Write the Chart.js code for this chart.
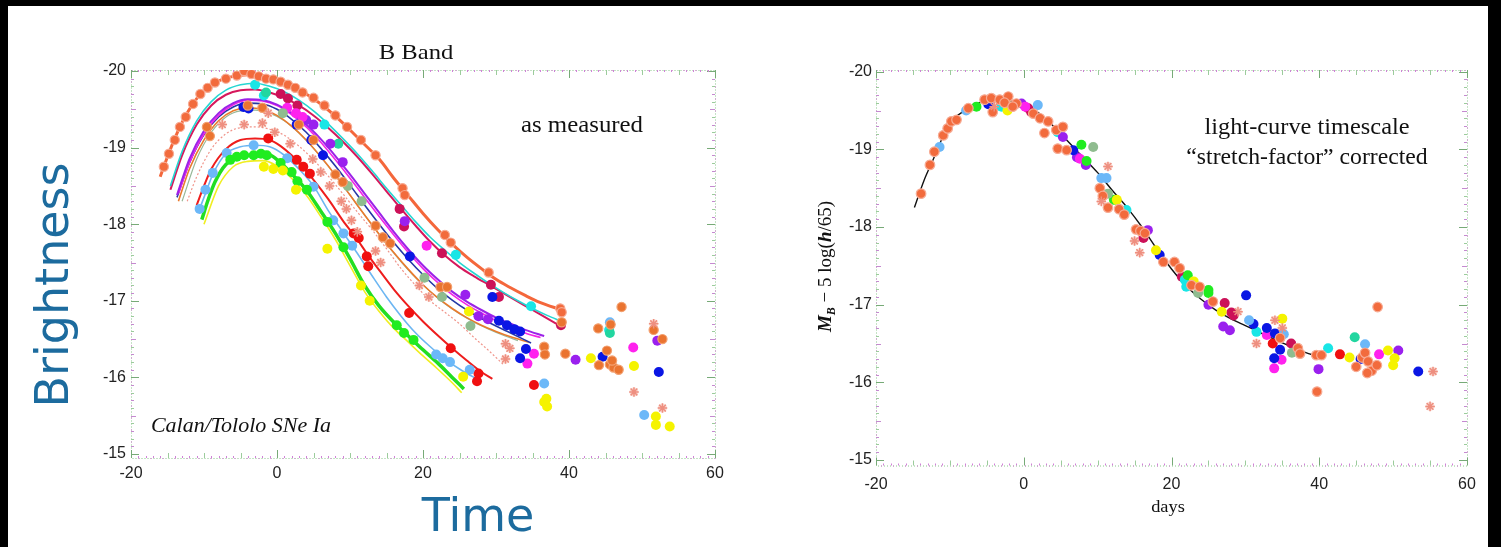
<!DOCTYPE html>
<html><head><meta charset="utf-8">
<script src="https://cdn.jsdelivr.net/npm/chart.js@4.4.1/dist/chart.umd.min.js"></script>
<style>
html,body{margin:0;padding:0;background:#000;width:1501px;height:547px;overflow:hidden}
#page{position:absolute;left:8px;top:6px;width:1480px;height:541px;background:#fff}
#c1{position:absolute;left:0;top:0}
#c2{position:absolute;left:742px;top:0}
</style></head><body>
<div id="page"><canvas id="c1" width="742" height="541"></canvas><canvas id="c2" width="738" height="541"></canvas></div>
<script>
// ---------- tick labels ----------
const xTickVals = [-20, 0, 20, 40, 60];
const yTickVals = [-20, -19, -18, -17, -16, -15];

// ---------- LEFT PANEL: template fits (as measured) ----------
const fitOrangeRed = [[-16,-18.62],[-15,-18.88],[-14,-19.12],[-13,-19.33],[-12,-19.5],[-11,-19.64],[-10,-19.74],[-8,-19.87],[-6,-19.93],[-4,-19.95],[-2,-19.94],[0,-19.88],[2,-19.8],[4,-19.7],[6,-19.57],[8,-19.41],[10,-19.23],[12,-19.04],[14,-18.85],[16,-18.6],[18,-18.37],[20,-18.14],[22,-17.93],[24,-17.74],[26,-17.57],[28,-17.42],[30,-17.28],[32,-17.17],[34,-17.07],[36,-16.98],[39,-16.88]];
const fitCyan = [[-14.6,-18.5],[-13,-18.95],[-11,-19.35],[-9,-19.6],[-7,-19.75],[-5,-19.82],[-3,-19.84],[-1,-19.8],[1,-19.73],[3,-19.62],[5,-19.48],[7,-19.31],[9,-19.12],[11,-18.92],[13,-18.7],[15,-18.47],[17,-18.25],[19,-18.03],[21,-17.83],[23,-17.66],[25,-17.5],[27,-17.36],[29,-17.23],[31,-17.11],[33,-17.0],[35,-16.9],[37,-16.81],[39,-16.73]];
const fitCrimson = [[-14.6,-18.45],[-13,-18.9],[-11,-19.3],[-9,-19.55],[-7,-19.69],[-5,-19.75],[-3,-19.76],[-1,-19.72],[1,-19.65],[3,-19.55],[5,-19.42],[7,-19.26],[9,-19.08],[11,-18.88],[13,-18.66],[15,-18.43],[17,-18.2],[19,-17.98],[21,-17.77],[23,-17.59],[25,-17.44],[27,-17.32],[29,-17.21],[31,-17.1],[33,-16.99],[35,-16.88],[37,-16.77],[39,-16.66]];
const fitPurple = [[-13.7,-18.38],[-12,-18.85],[-10,-19.22],[-8,-19.45],[-6,-19.58],[-4,-19.63],[-2,-19.62],[0,-19.56],[2,-19.45],[4,-19.3],[6,-19.11],[8,-18.89],[10,-18.65],[12,-18.4],[14,-18.15],[16,-17.9],[18,-17.67],[20,-17.46],[22,-17.28],[24,-17.12],[26,-16.99],[28,-16.88],[30,-16.78],[32,-16.7],[34,-16.62],[36.6,-16.54]];
const fitMagenta = [[-13.5,-18.4],[-12,-18.8],[-10,-19.18],[-8,-19.42],[-6,-19.56],[-4,-19.62],[-2,-19.61],[0,-19.55],[2,-19.43],[4,-19.27],[6,-19.07],[8,-18.84],[10,-18.6],[12,-18.35],[14,-18.1],[16,-17.86],[18,-17.63],[20,-17.42],[22,-17.24],[24,-17.08],[26,-16.95],[28,-16.84],[30,-16.74],[32,-16.66],[34,-16.58],[36.1,-16.52]];
const fitNavy = [[-13.7,-18.35],[-12,-18.8],[-10,-19.17],[-8,-19.4],[-6,-19.53],[-4,-19.58],[-2,-19.57],[0,-19.5],[2,-19.37],[4,-19.2],[6,-18.99],[8,-18.76],[10,-18.51],[12,-18.25],[14,-18.0],[16,-17.76],[18,-17.54],[20,-17.34],[22,-17.16],[24,-17.01],[26,-16.88],[28,-16.77],[30,-16.67],[32,-16.58],[34.8,-16.45]];
const fitOrange = [[-13.5,-18.3],[-12,-18.72],[-10,-19.1],[-8,-19.35],[-6,-19.48],[-4,-19.52],[-2,-19.5],[0,-19.42],[2,-19.28],[4,-19.1],[6,-18.88],[8,-18.64],[10,-18.38],[12,-18.12],[14,-17.87],[16,-17.63],[18,-17.41],[20,-17.21],[22,-17.04],[24,-16.9],[26,-16.78],[28,-16.68],[30,-16.6],[32,-16.53],[34.5,-16.46]];
const fitGrayGreen = [[-13,-18.3],[-11,-18.85],[-9,-19.2],[-7,-19.4],[-5,-19.48],[-3,-19.49],[-1,-19.45],[1,-19.35],[3,-19.19],[5,-18.99],[7,-18.76],[9,-18.51],[11,-18.25],[13,-17.99],[15,-17.74],[17,-17.51],[19,-17.3],[21,-17.12],[23,-16.96],[25,-16.83],[27,-16.72],[29,-16.63],[31,-16.55],[33,-16.48]];
const fitPink = [[-12.3,-18.3],[-11,-18.62],[-9,-18.98],[-7,-19.18],[-5,-19.26],[-3,-19.27],[-1,-19.24],[1,-19.16],[3,-19.02],[5,-18.84],[7,-18.63],[9,-18.4],[11,-18.16],[13,-17.93],[15,-17.68],[17,-17.42],[19,-17.2],[21,-17.0],[23,-16.85],[25,-16.7],[27,-16.52],[29,-16.35],[31.1,-16.16]];
const fitRed = [[-11,-18.25],[-10,-18.5],[-9,-18.72],[-7,-18.98],[-5,-19.1],[-3,-19.12],[-1,-19.1],[0.5,-19.02],[2,-18.9],[3,-18.8],[5,-18.58],[7,-18.33],[9,-18.05],[11,-17.8],[12.3,-17.62],[14,-17.4],[16,-17.15],[18,-16.93],[20,-16.73],[22,-16.55],[24,-16.38],[26,-16.22],[28,-16.07],[29.5,-15.98]];
const fitLightBlue = [[-10.8,-18.15],[-10,-18.35],[-8.7,-18.67],[-7,-18.92],[-5,-19.01],[-3,-19.03],[-1,-19.01],[1,-18.9],[3,-18.72],[5,-18.5],[7,-18.18],[9,-17.9],[11,-17.62],[13,-17.33],[15,-17.05],[17,-16.8],[19,-16.58],[21,-16.4],[23,-16.24],[25,-16.11],[27,-16.0],[28,-15.95]];
const fitGreen = [[-10.3,-18.06],[-9.5,-18.3],[-8.5,-18.55],[-7,-18.78],[-5,-18.88],[-3,-18.9],[-1,-18.9],[0.5,-18.8],[2,-18.66],[4,-18.45],[6,-18.17],[8,-17.88],[10,-17.55],[12,-17.2],[14,-16.93],[16,-16.72],[18,-16.54],[20,-16.36],[22,-16.19],[24,-16.0],[25.6,-15.85]];
const fitYellow = [[-10,-18.0],[-8,-18.5],[-6,-18.75],[-4,-18.82],[-2,-18.83],[0,-18.76],[2,-18.6],[4,-18.38],[6,-18.1],[8,-17.8],[10,-17.46],[12,-17.12],[14,-16.86],[16,-16.64],[18,-16.46],[20,-16.28],[22,-16.11],[24,-15.93],[25.3,-15.8]];

// ---------- LEFT PANEL: measured points ----------
const lOrangeRed = [[-15.5,-18.75],[-14.8,-18.92],[-14,-19.1],[-13.3,-19.27],[-12.5,-19.4],[-11.5,-19.57],[-10.5,-19.7],[-9.5,-19.78],[-8.5,-19.85],[-7,-19.9],[-5.5,-19.94],[-4.5,-20.0],[-3.5,-19.96],[-2.5,-19.93],[-1.5,-19.9],[-0.5,-19.89],[0.5,-19.86],[1.5,-19.82],[2.5,-19.78],[3.5,-19.72],[5,-19.65],[6.5,-19.55],[8,-19.42],[9.6,-19.27],[11.5,-19.1],[13.5,-18.9],[17.2,-18.47],[17.5,-18.38],[23,-17.86],[23.8,-17.76],[29,-17.37],[38.8,-16.9],[39,-16.85]];
const lOrange = [[-9.6,-19.27],[-9.2,-19.15],[-4,-19.55],[-2,-19.52],[3,-19.3],[5,-19.1],[8,-18.65],[9,-18.55],[13.5,-17.98],[14.5,-17.83],[15.5,-17.75],[22.4,-17.18],[23.3,-17.18],[39,-16.72],[36.6,-16.4],[36.7,-16.3],[39.5,-16.31],[44,-16.64],[44.1,-16.16],[45.2,-16.35],[45.6,-16.17],[46.1,-16.13],[46.8,-16.1],[45.9,-16.22],[47.2,-16.92],[51.6,-16.62],[52.8,-16.5],[45.7,-16.69]];
const lCrimson = [[16.8,-18.2],[17.4,-17.97],[22.6,-17.62],[29.3,-17.21],[30.4,-17.05],[0.5,-19.7],[1.5,-19.64],[2.8,-19.55],[38.9,-16.68]];
const lCyan = [[-3,-19.82],[24.5,-17.6],[34.8,-16.93],[6.5,-19.3],[45.5,-16.62],[-1.8,-19.68]];
const lTeal = [[8.4,-19.05],[45.6,-16.58],[-1.5,-19.72]];
const lPurple = [[4,-19.36],[5,-19.3],[9,-18.81],[7.3,-19.05],[17.5,-18.04],[25.8,-17.08],[27.6,-16.8],[28.9,-16.76],[40.9,-16.23],[52.1,-16.48]];
const lMagenta = [[1.4,-19.52],[2.6,-19.45],[20.5,-17.72],[34.3,-16.18],[35.2,-16.31],[48.8,-16.39],[3.5,-19.4]];
const lBlue = [[-4.6,-19.53],[-3.9,-19.51],[2.7,-19.3],[4.7,-19.1],[6.3,-18.9],[18.2,-17.58],[29.5,-17.05],[30.4,-16.74],[31.5,-16.68],[32.5,-16.63],[33.3,-16.6],[34.1,-16.37],[33.3,-16.25],[44.6,-16.27],[52.3,-16.07]];
const lRed = [[-1.2,-19.12],[2.7,-18.84],[3.6,-18.75],[4.5,-18.66],[10.5,-17.88],[11.2,-17.82],[12.3,-17.58],[12.5,-17.45],[18.1,-16.84],[23.8,-16.38],[27.6,-16.05],[27.4,-15.95],[35.2,-15.9]];
const lLightBlue = [[-10.6,-18.2],[-9.8,-18.45],[-8.8,-18.67],[-6.9,-18.93],[-3.2,-19.03],[1.4,-18.86],[5,-18.49],[7.7,-18.05],[9.1,-17.88],[10.3,-17.72],[21.8,-16.3],[22.7,-16.25],[23.7,-16.2],[26.4,-16.1],[36.6,-15.92],[50.3,-15.51],[45.6,-16.72]];
const lGreen = [[-6.4,-18.84],[-5.5,-18.88],[-4.5,-18.9],[-3.2,-18.9],[-2.2,-18.92],[-1.4,-18.9],[0.5,-18.8],[2,-18.68],[2.8,-18.56],[4.1,-18.45],[6.9,-18.03],[9.1,-17.7],[16.4,-16.68],[17.4,-16.58],[18.7,-16.49]];
const lYellow = [[-1.8,-18.75],[-0.5,-18.72],[0.8,-18.7],[2.6,-18.45],[6.9,-17.68],[11.5,-17.2],[12.7,-17.0],[25.5,-16.01],[26.3,-16.86],[36.6,-15.68],[37,-15.62],[36.9,-15.72],[43,-16.25],[48.9,-16.15],[51.9,-15.49],[51.9,-15.38],[53.8,-15.36]];
const lGrayGreen = [[0.8,-19.45],[9.7,-18.5],[11.6,-18.3],[22.6,-17.05],[26.5,-16.67],[20.2,-17.3]];
const lPinkStar = [[-7.5,-19.3],[-4.5,-19.3],[-2,-19.32],[-1.2,-19.45],[-0.3,-19.2],[1.8,-19.05],[4.9,-18.85],[6,-18.68],[7.2,-18.5],[8.8,-18.3],[9.5,-18.2],[10.2,-18.05],[11,-17.9],[13.5,-17.65],[14.2,-17.5],[19.5,-17.2],[20.8,-17.05],[31.3,-16.44],[31.9,-16.38],[31.3,-16.24],[48.9,-15.81],[52.8,-15.6],[51.6,-16.7]];

// ---------- RIGHT PANEL: stretch-corrected template ----------
const fitTemplate = [[-14.8,-18.25],[-13.5,-18.6],[-12.3,-18.86],[-11,-19.15],[-9.6,-19.38],[-8,-19.5],[-6,-19.6],[-4,-19.64],[-2,-19.63],[0,-19.57],[2,-19.47],[4,-19.3],[6,-19.1],[8,-18.9],[10,-18.7],[12,-18.47],[14,-18.25],[16,-18.0],[18,-17.72],[20,-17.46],[22,-17.24],[24,-17.07],[26,-16.93],[28,-16.82],[30,-16.73],[32,-16.64],[34,-16.55],[36,-16.47],[38,-16.39],[40,-16.33]];

// ---------- RIGHT PANEL: corrected points ----------
const rOrange = [[-13.9,-18.43],[-12.7,-18.8],[-12.1,-18.97],[-10.9,-19.18],[-10.3,-19.27],[-9.8,-19.36],[-9.1,-19.38],[-7.5,-19.53],[-5.3,-19.64],[-4.4,-19.66],[-3.25,-19.64],[-2.1,-19.68],[-1,-19.59],[-4.2,-19.48],[-2.6,-19.6],[-1.5,-19.55],[1.3,-19.46],[2.2,-19.4],[3.3,-19.36],[2.8,-19.21],[4.4,-19.25],[5.3,-19.29],[4.6,-19.01],[5.8,-18.99],[10.3,-18.5],[10.7,-18.4],[11.4,-18.25],[12.9,-18.23],[13.6,-18.16],[15.2,-17.97],[15.8,-17.95],[16.4,-17.92],[18.9,-17.55],[20.4,-17.55],[21.1,-17.47],[22.7,-17.25],[23.8,-17.23],[25.6,-17.04],[34.7,-16.57],[37.1,-16.44],[37.4,-16.37],[39.6,-16.35],[40.3,-16.35],[45,-16.2],[45.8,-16.32],[46.2,-16.38],[46.6,-16.27],[47.1,-16.15],[47.8,-16.22],[46.5,-16.12],[47.9,-16.97],[39.7,-15.88]];
const rBlue = [[-4.8,-19.58],[6.7,-18.99],[18.4,-17.64],[30.1,-17.12],[31.1,-16.75],[32.9,-16.7],[34,-16.63],[34.7,-16.42],[33.9,-16.31],[53.4,-16.14],[45.6,-16.3]];
const rCyan = [[-3,-19.55],[4.6,-19.22],[13.9,-18.22],[21.8,-17.32],[22,-17.23],[31.5,-16.65],[41.2,-16.44]];
const rGreen = [[-6.4,-19.55],[-2.5,-19.62],[7.8,-19.06],[8.5,-18.85],[12.2,-18.35],[22.2,-17.38],[25,-17.19],[25,-17.15]];
const rTeal = [[44.8,-16.58]];
const rPurple = [[-0.3,-19.59],[5.3,-19.16],[7.2,-18.9],[8.4,-18.8],[16.8,-17.96],[25,-17.0],[27,-16.72],[27.9,-16.67],[39.9,-16.17],[50.7,-16.41]];
const rMagenta = [[0.2,-19.55],[7.6,-18.88],[32.9,-16.61],[34.9,-16.29],[33.9,-16.18],[48.1,-16.36]];
const rCrimson = [[0.6,-19.53],[1.0,-19.48],[16.2,-17.86],[27.2,-17.02],[28.1,-16.9],[28.4,-16.86],[36.2,-16.5],[21.4,-17.36]];
const rRed = [[33.7,-16.5],[42.8,-16.36]];
const rYellow = [[-2.2,-19.5],[12.6,-18.35],[17.9,-17.7],[23,-17.3],[26.8,-16.91],[35,-16.82],[44.1,-16.32],[49.3,-16.41],[50.2,-16.31],[50,-16.22]];
const rLightBlue = [[-11.4,-19.03],[-7.8,-19.5],[1.9,-19.57],[10.5,-18.63],[11.2,-18.63],[30.5,-16.8],[35.2,-16.62],[46.2,-16.49]];
const rGrayGreen = [[9.4,-19.03],[11.4,-18.43],[23.6,-17.15],[36.3,-16.38]];
const rPinkStar = [[-4,-19.55],[11.4,-18.78],[10.5,-18.33],[15,-17.82],[15.7,-17.67],[29,-16.91],[31.5,-16.5],[34,-16.8],[35,-16.7],[55.4,-16.14],[55,-15.69]];

// ---------- helpers ----------
const pts = a => a.map(([x, y]) => ({x, y}));
function lineDs(d, color, w, dash) {
  return {data: pts(d), showLine: true, borderColor: color, borderWidth: w, borderDash: dash || [],
    pointRadius: 0, pointHoverRadius: 0, cubicInterpolationMode: 'monotone', order: 2, fill: false};
}
function dotDs(d, fill, border, bw, r) {
  return {data: pts(d), showLine: false, backgroundColor: fill, borderColor: border || fill,
    borderWidth: bw || 0, pointStyle: 'circle', pointRadius: r || 5, order: 1};
}
function starDs(d) {
  return [
    {data: pts(d), showLine: false, backgroundColor: '#fbd9d0', borderColor: '#fbd9d0', borderWidth: 0, pointRadius: 4.5, order: 1},
    {data: pts(d), showLine: false, backgroundColor: '#ee8f80', borderColor: '#ee8f80', borderWidth: 1.5, pointStyle: 'star', pointRadius: 4.8, order: 0}
  ];
}

// frame with dotted border and inward minor ticks
const framePlugin = {
  id: 'frame',
  beforeDatasetsDraw(chart) {
    const {ctx, chartArea: a, scales: {x, y}} = chart;
    ctx.save();
    ctx.lineWidth = 1;
    ctx.setLineDash([1, 2]);
    ctx.strokeStyle = '#8cc98c';
    ctx.strokeRect(a.left + 0.5, a.top + 0.5, a.right - a.left, a.bottom - a.top);
    ctx.setLineDash([1, 11]);
    ctx.strokeStyle = '#d77ad7';
    ctx.strokeRect(a.left + 0.5, a.top + 0.5, a.right - a.left, a.bottom - a.top);
    ctx.setLineDash([]);
    for (let k = 0; k <= 50; k++) {
      const v = -20 + k / 10;
      const py = Math.round(y.getPixelForValue(v)) + 0.5;
      const len = k % 10 === 0 ? 8 : (k % 5 === 0 ? 5 : 3);
      ctx.strokeStyle = k % 10 === 0 ? '#77aa77' : (k % 2 ? '#c58ad0' : '#9ccc9c');
      ctx.beginPath();
      ctx.moveTo(a.left, py); ctx.lineTo(a.left + len, py);
      ctx.moveTo(a.right, py); ctx.lineTo(a.right - len, py);
      ctx.stroke();
    }
    for (let v = -20; v <= 60; v += 1) {
      const px = Math.round(x.getPixelForValue(v)) + 0.5;
      const len = v % 20 === 0 ? 8 : (v % 5 === 0 ? 5 : 2);
      ctx.strokeStyle = v % 20 === 0 ? '#77aa77' : (v % 5 === 0 ? '#9ccc9c' : '#d080d8');
      ctx.beginPath();
      ctx.moveTo(px, a.bottom); ctx.lineTo(px, a.bottom - len);
      ctx.moveTo(px, a.top); ctx.lineTo(px, a.top + len);
      ctx.stroke();
    }
    ctx.restore();
  }
};

// free text annotations (positions in canvas pixels)
const textPlugin = {
  id: 'texts',
  afterDraw(chart, args, opts) {
    const ctx = chart.ctx;
    (opts.items || []).forEach(it => {
      ctx.save();
      ctx.translate(it.x, it.y);
      if (it.rot) ctx.rotate(it.rot);
      if (it.sx) ctx.scale(it.sx, 1);
      ctx.textBaseline = 'alphabetic';
      ctx.fillStyle = it.color || '#111';
      if (it.parts) {
        let total = 0;
        it.parts.forEach(p => { ctx.font = p.font; total += ctx.measureText(p.t).width; });
        let cx = -total / 2;
        ctx.textAlign = 'left';
        it.parts.forEach(p => { ctx.font = p.font; ctx.fillText(p.t, cx, p.dy || 0); cx += ctx.measureText(p.t).width; });
      } else {
        ctx.font = it.font;
        ctx.textAlign = 'center';
        ctx.fillText(it.text, 0, 0);
      }
      ctx.restore();
    });
  }
};
Chart.register(framePlugin, textPlugin);

function makeScales(yMin, yMax, yW, yPad, xPad) {
  return {
    x: {type: 'linear', min: -20, max: 60,
      afterBuildTicks: s => { s.ticks = xTickVals.map(v => ({value: v})); },
      afterFit: s => { s.height = 30; },
      grid: {display: false, drawTicks: false}, border: {display: false},
      ticks: {padding: xPad, color: '#222', font: {family: 'Liberation Sans', size: 16}}},
    y: {type: 'linear', reverse: true, min: yMin, max: yMax,
      afterBuildTicks: s => { s.ticks = yTickVals.map(v => ({value: v})); },
      afterFit: s => { s.width = yW; },
      grid: {display: false, drawTicks: false}, border: {display: false},
      ticks: {padding: yPad, color: '#222', font: {family: 'Liberation Sans', size: 16}}}
  };
}

const serif = 'Liberation Serif';

// ---------- LEFT chart ----------
new Chart(document.getElementById('c1'), {
  type: 'scatter',
  data: {datasets: [
    lineDs(fitOrangeRed, '#f4673b', 3),
    lineDs(fitCyan, '#26d6d2', 1.6),
    lineDs(fitCrimson, '#d6185c', 2),
    lineDs(fitPurple, '#9b22e8', 2),
    lineDs(fitMagenta, '#f225e6', 1.6),
    lineDs(fitNavy, '#2438a6', 1.6),
    lineDs(fitOrange, '#ea7a2c', 1.6),
    lineDs(fitGrayGreen, '#98b898', 1.2),
    lineDs(fitPink, '#f0948a', 1.2, [2, 2]),
    lineDs(fitRed, '#ee1d1d', 2),
    lineDs(fitLightBlue, '#6cb6f2', 1.6),
    lineDs(fitYellow, '#f0ee20', 1.6),
    lineDs(fitGreen, '#22de22', 3.5),
    dotDs(lOrangeRed, '#f26b3d', '#f7ab94', 1.2, 4.6),
    dotDs(lOrange, '#ea7430', '#f3a070', 1.2, 4.6),
    dotDs(lGrayGreen, '#8fbc8f'),
    dotDs(lYellow, '#f5f300'),
    dotDs(lGreen, '#20ec20'),
    dotDs(lLightBlue, '#6cb8f8'),
    dotDs(lRed, '#f01010'),
    dotDs(lBlue, '#0a16e4'),
    dotDs(lMagenta, '#ff22ee'),
    dotDs(lPurple, '#9a20ee'),
    dotDs(lTeal, '#22d6a0'),
    dotDs(lCyan, '#19e6e6'),
    dotDs(lCrimson, '#cc1158'),
    ...starDs(lPinkStar)
  ]},
  options: {
    responsive: false, devicePixelRatio: 1, animation: false,
    layout: {padding: {left: 0, top: 64, right: 35, bottom: 59}},
    scales: makeScales(-20.013, -14.948, 123, 5, 6),
    plugins: {legend: {display: false}, tooltip: {enabled: false},
      texts: {items: [
        {text: 'B Band', x: 408, y: 52.5, font: '22px ' + serif, sx: 1.12},
        {text: 'as measured', x: 574, y: 125.5, font: '23px ' + serif, sx: 1.08},
        {text: 'Calan/Tololo SNe Ia', x: 233, y: 425.5, font: 'italic 22px ' + serif},
        {text: 'Brightness', x: 60, y: 279, rot: -Math.PI / 2, font: '46px DejaVu Sans', color: '#1c6b9e'},
        {text: 'Time', x: 470, y: 525, font: '46px DejaVu Sans', color: '#1c6b9e'}
      ]}}
  }
});

// ---------- RIGHT chart ----------
new Chart(document.getElementById('c2'), {
  type: 'scatter',
  data: {datasets: [
    lineDs(fitTemplate, '#111111', 1.4),
    dotDs(rOrange, '#f26b3d', '#f7ab94', 1.2, 4.8),
    dotDs(rGrayGreen, '#8fbc8f'),
    dotDs(rYellow, '#f5f300'),
    dotDs(rGreen, '#20ec20'),
    dotDs(rLightBlue, '#6cb8f8'),
    dotDs(rRed, '#f01010'),
    dotDs(rBlue, '#0a16e4'),
    dotDs(rMagenta, '#ff22ee'),
    dotDs(rPurple, '#9a20ee'),
    dotDs(rTeal, '#22d6a0'),
    dotDs(rCyan, '#19e6e6'),
    dotDs(rCrimson, '#cc1158'),
    ...starDs(rPinkStar)
  ]},
  options: {
    responsive: false, devicePixelRatio: 1, animation: false,
    layout: {padding: {left: 0, top: 64, right: 21, bottom: 51.5}},
    scales: makeScales(-20.022, -14.929, 126, 4, 9),
    plugins: {legend: {display: false}, tooltip: {enabled: false},
      texts: {items: [
        {text: 'light-curve timescale', x: 557, y: 128, font: '23px ' + serif, sx: 1.06},
        {text: '\u201Cstretch-factor\u201D corrected', x: 557, y: 158, font: '23px ' + serif, sx: 1.03},
        {text: 'days', x: 418, y: 506, font: '17px ' + serif, sx: 1.08},
        {x: 81, y: 260.5, rot: -Math.PI / 2, parts: [
          {t: 'M', font: 'italic bold 19px ' + serif},
          {t: 'B', font: 'italic bold 12px ' + serif, dy: 4},
          {t: ' \u2212 5 log(', font: '19px ' + serif},
          {t: 'h', font: 'italic bold 19px ' + serif},
          {t: '/65)', font: '19px ' + serif}
        ]}
      ]}}
  }
});
</script>
</body></html>
